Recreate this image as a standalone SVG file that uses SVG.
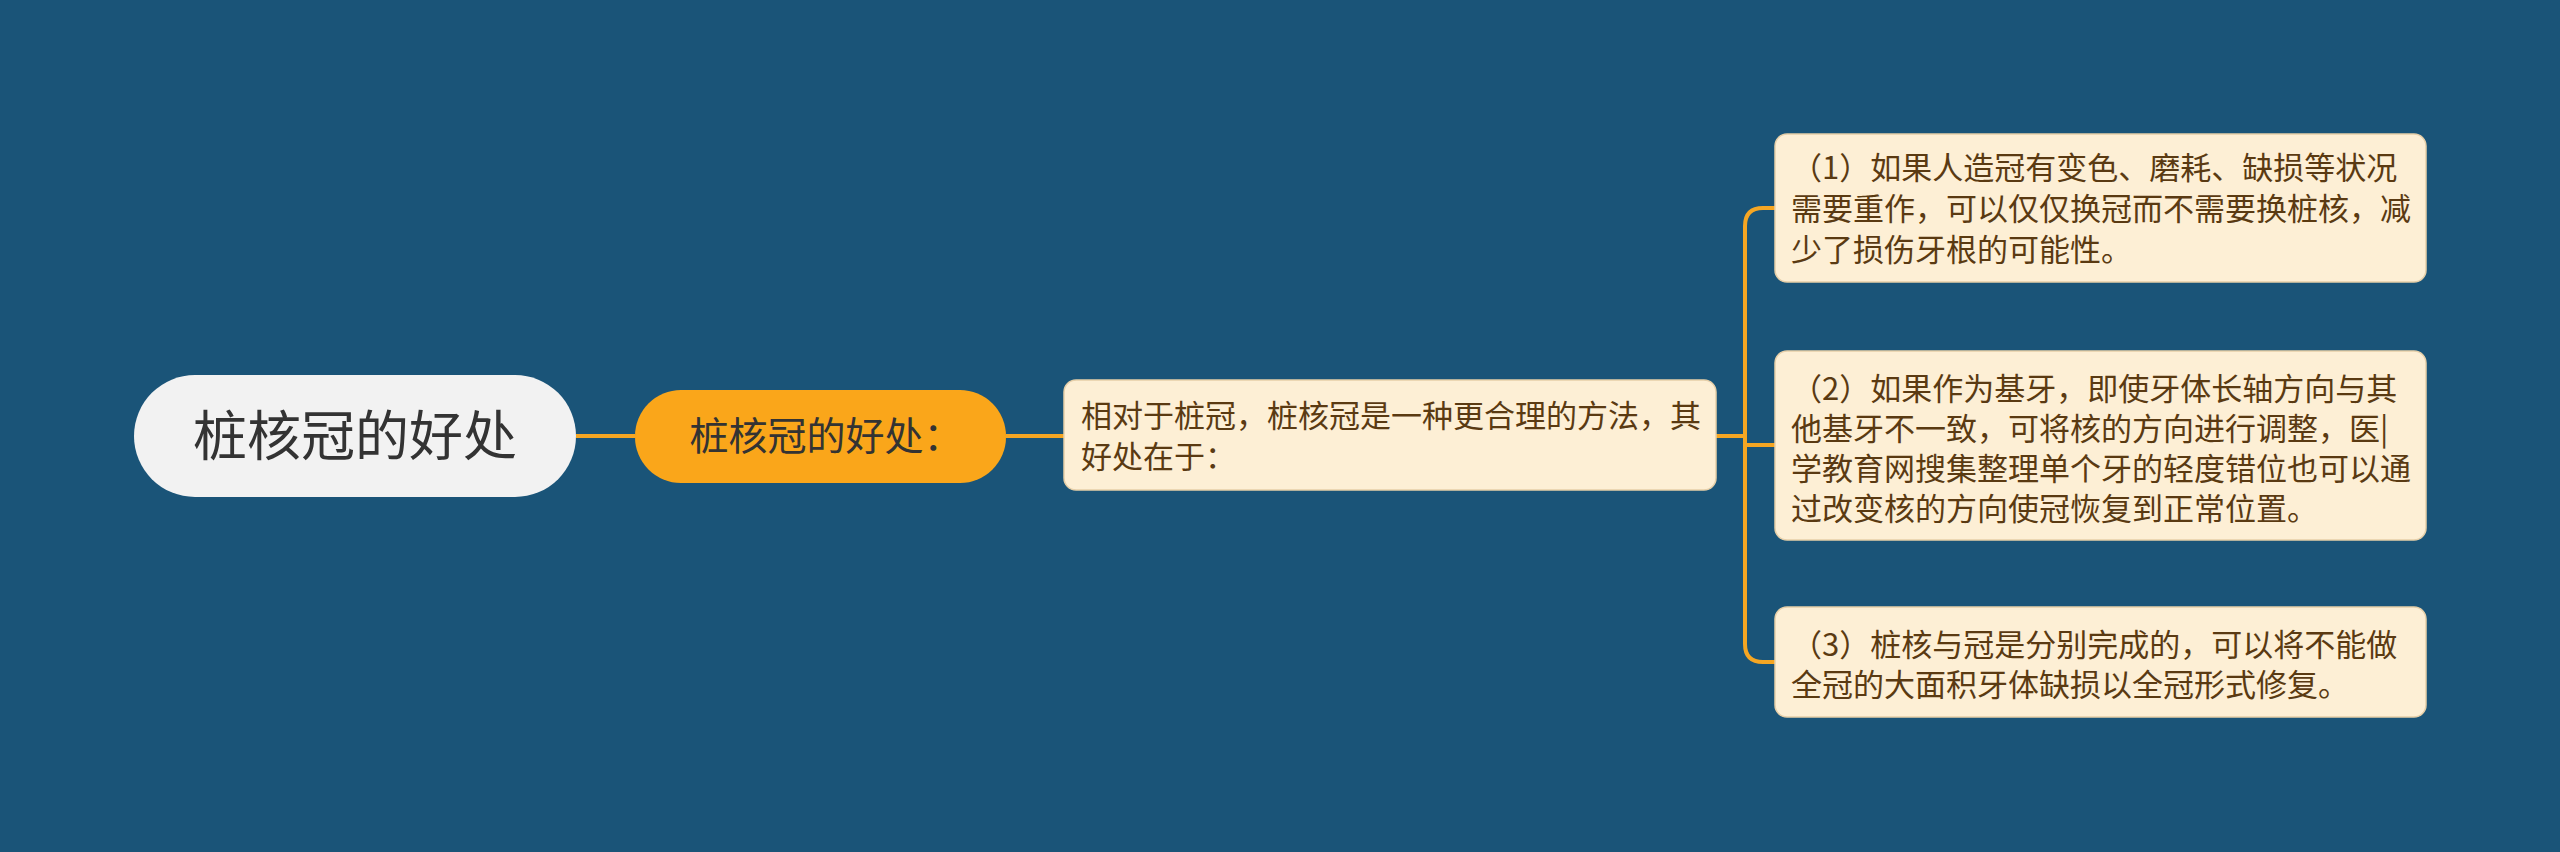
<svg xmlns="http://www.w3.org/2000/svg" width="2560" height="852" viewBox="0 0 2560 852">
<style>
.cjk{font-family:"Noto Sans CJK SC","Noto Sans",sans-serif;}
.leaf{fill:#FDEFD5;stroke:#E6CFA8;stroke-width:1.5;}
.leaftxt{font-size:31px;fill:#5A3A12;}
.conn{fill:none;stroke:#F5A623;stroke-width:4;}
</style>
<rect width="2560" height="852" fill="#1A5478"/>
<g id="connectors">
<path class="conn" d="M576,436 H635"/>
<path class="conn" d="M1006,436 H1064"/>
<path class="conn" d="M1716,436 H1745"/>
<path class="conn" d="M1775,208 H1763 Q1745,208 1745,226 V644 Q1745,662 1763,662 H1775"/>
<path class="conn" d="M1745,445 H1775"/>
</g>
<g id="root">
<rect x="134" y="375" width="442" height="122" rx="61" fill="#F2F2F2"/>
<text class="cjk" x="355" y="456" font-size="54" fill="#333333" text-anchor="middle">桩核冠的好处</text>
</g>
<g id="n1">
<rect x="635" y="390" width="371" height="93" rx="46" fill="#FAA61A"/>
<text class="cjk" x="826" y="450" font-size="39" fill="#333333" text-anchor="middle">桩核冠的好处：</text>
</g>
<g id="n2">
<rect class="leaf" x="1064" y="380" width="652" height="110" rx="12"/>
<text class="cjk leaftxt" x="1081" y="427">相对于桩冠，桩核冠是一种更合理的方法，其</text>
<text class="cjk leaftxt" x="1081" y="468">好处在于：</text>
</g>
<g id="n3">
<rect class="leaf" x="1775" y="134" width="651" height="148" rx="12"/>
<text class="cjk leaftxt" x="1791" y="179">（1）如果人造冠有变色、磨耗、缺损等状况</text>
<text class="cjk leaftxt" x="1791" y="220">需要重作，可以仅仅换冠而不需要换桩核，减</text>
<text class="cjk leaftxt" x="1791" y="261">少了损伤牙根的可能性。</text>
</g>
<g id="n4">
<rect class="leaf" x="1775" y="351" width="651" height="189" rx="12"/>
<text class="cjk leaftxt" x="1791" y="400">（2）如果作为基牙，即使牙体长轴方向与其</text>
<text class="cjk leaftxt" x="1791" y="440">他基牙不一致，可将核的方向进行调整，医|</text>
<text class="cjk leaftxt" x="1791" y="480">学教育网搜集整理单个牙的轻度错位也可以通</text>
<text class="cjk leaftxt" x="1791" y="520">过改变核的方向使冠恢复到正常位置。</text>
</g>
<g id="n5">
<rect class="leaf" x="1775" y="607" width="651" height="110" rx="12"/>
<text class="cjk leaftxt" x="1791" y="656">（3）桩核与冠是分别完成的，可以将不能做</text>
<text class="cjk leaftxt" x="1791" y="696">全冠的大面积牙体缺损以全冠形式修复。</text>
</g>
</svg>
